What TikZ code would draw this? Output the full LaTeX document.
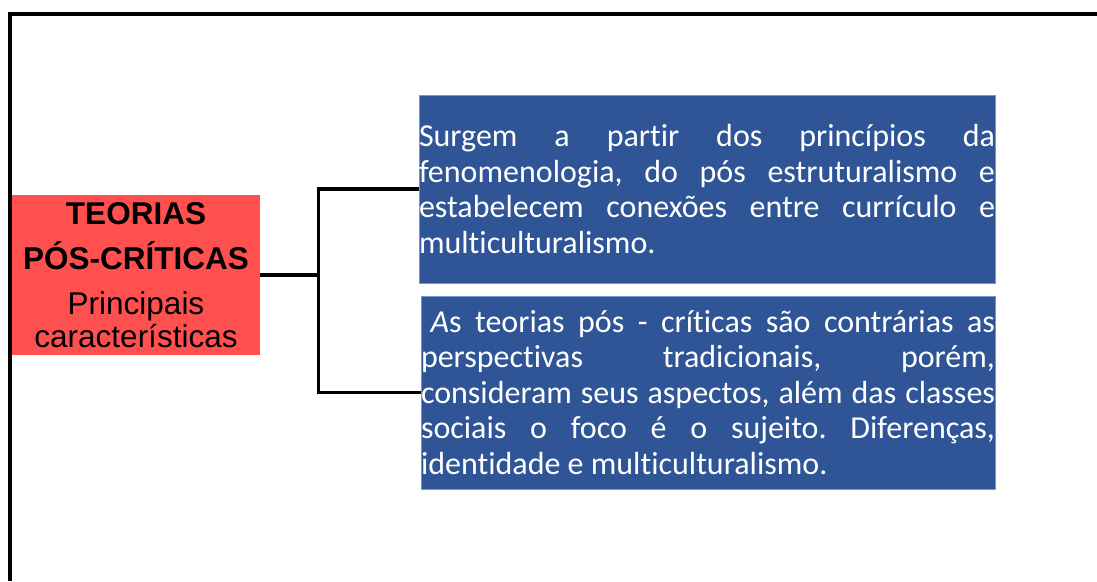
\documentclass[tikz,border=0pt]{standalone}
\usepackage{fontspec}
\setmainfont{Carlito}[Ligatures=NoCommon]
\newfontfamily\arialfont{Liberation Sans}
\usetikzlibrary{positioning}
\definecolor{caixavermelha}{RGB}{255,80,80}
\definecolor{caixaazul}{RGB}{47,85,151}
\definecolor{bordaazul}{RGB}{120,150,200}
\frenchspacing

\begin{document}
\begin{tikzpicture}[x=1pt,y=-1pt,
  titulo/.style={fill=caixavermelha, minimum width=248pt, minimum height=160pt,
    inner sep=0pt, align=center, font=\arialfont\fontsize{31.5}{33}\selectfont},
  texto/.style={fill=caixaazul, draw=bordaazul, line width=0.8pt, text=white,
    inner xsep=0pt, inner ysep=0pt, align=justify,
    font=\fontsize{32}{35.5}\selectfont},
  ligacao/.style={line width=3.2pt},
  moldura/.style={line width=4.5pt}]
\useasboundingbox (0,0) rectangle (1097,581);

% moldura
\draw[moldura] (1097,14) -| (10,581);

% caixa do titulo
\node[titulo] (teorias) at (136,275)
  {\textbf{TEORIAS}\\[12.6pt]\textbf{PÓS-CRÍTICAS}\\[12pt]Principais\\características};

% caixas de texto
\node[texto, text width=576pt, minimum height=188pt] (surgem) at (707,189)
  {\hyphenpenalty=10000 Surgem a partir dos princípios da\linebreak
   fenomenologia, do pós estruturalismo e\linebreak
   estabelecem conexões entre currículo e\linebreak
   multiculturalismo.};
\node[texto, text width=574pt, minimum height=193pt] (contrarias) at (708,392.5)
  {\hyphenpenalty=10000 \hspace*{0.3em}\textit{A}s teorias pós - críticas são contrárias as\linebreak
   perspectivas tradicionais, porém,\linebreak
   consideram seus aspectos, além das classes\linebreak
   sociais o foco é o sujeito. Diferenças,\linebreak
   identidade e multiculturalismo.};

% ligacoes
\coordinate (juncao) at ([xshift=58pt]teorias.east);
\draw[ligacao] (teorias.east) -- (juncao);
\draw[ligacao] (surgem.west) -| (juncao) |- (contrarias.west);

\end{tikzpicture}
\end{document}
